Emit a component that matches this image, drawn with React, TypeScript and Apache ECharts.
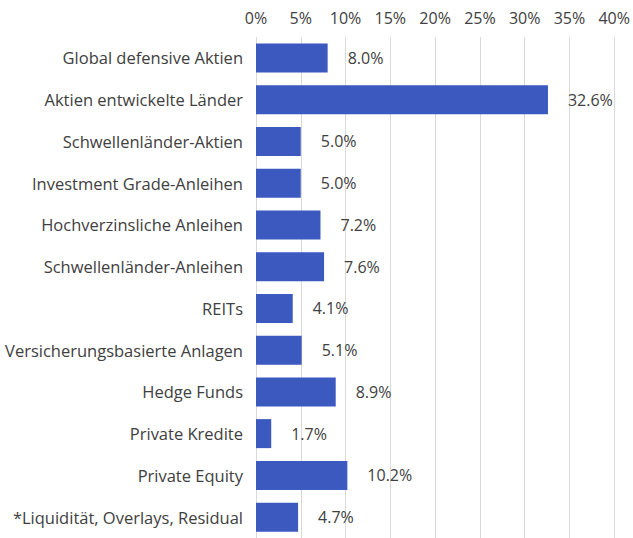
import React, { useEffect, useRef } from "react";
import * as echarts from "echarts";

const categories = [
  "Global defensive Aktien",
  "Aktien entwickelte Länder",
  "Schwellenländer-Aktien",
  "Investment Grade-Anleihen",
  "Hochverzinsliche Anleihen",
  "Schwellenländer-Anleihen",
  "REITs",
  "Versicherungsbasierte Anlagen",
  "Hedge Funds",
  "Private Kredite",
  "Private Equity",
  "*Liquidität, Overlays, Residual",
];
const values = [8.0, 32.6, 5.0, 5.0, 7.2, 7.6, 4.1, 5.1, 8.9, 1.7, 10.2, 4.7];

export default function App() {
  const ref = useRef<HTMLDivElement>(null);
  useEffect(() => {
    const chart = echarts.init(ref.current!, null, { renderer: "svg" });
    const font = "'Open Sans', sans-serif";
    chart.setOption({
      animation: false,
      textStyle: { fontFamily: font },
      grid: { left: 256, right: 18, top: 37, bottom: -4, containLabel: false },
      xAxis: {
        type: "value",
        position: "top",
        min: 0,
        max: 40,
        interval: 5,
        axisLabel: {
          formatter: (v: number) => v + "%",
          color: "#404040",
          fontSize: 16,
          fontFamily: font,
          margin: 11,
        },
        axisLine: { show: false },
        axisTick: { show: false },
        splitLine: { show: true, lineStyle: { color: "#d9d9d9", width: 1 } },
      },
      yAxis: {
        type: "category",
        data: categories,
        inverse: true,
        axisLine: { show: false },
        axisTick: { show: false },
        axisLabel: {
          color: "#404040",
          fontSize: 16.5,
          fontFamily: font,
          margin: 13,
        },
      },
      series: [
        {
          type: "bar",
          data: values,
          barWidth: 29,
          itemStyle: { color: "#3B59BE" },
          label: {
            show: true,
            position: "right",
            distance: 20,
            formatter: (p: any) => p.value.toFixed(1) + "%",
            color: "#404040",
            fontSize: 16,
            fontFamily: font,
          },
        },
      ],
    });
    return () => chart.dispose();
  }, []);
  return (
    <div
      ref={ref}
      style={{ position: "absolute", left: 0, top: 0, width: 633, height: 538, background: "#fff" }}
    />
  );
}
